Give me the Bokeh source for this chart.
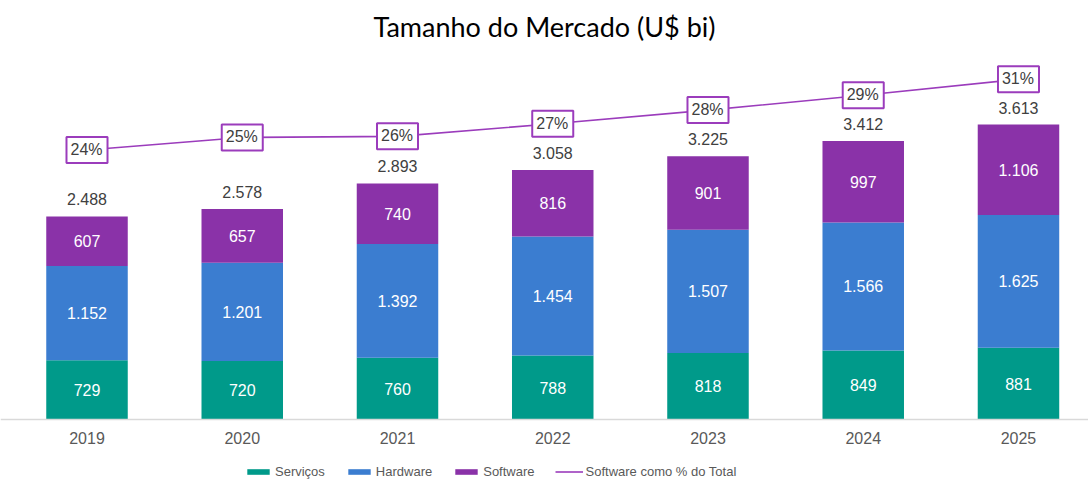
from bokeh.plotting import figure
from bokeh.models import Range1d, ColumnDataSource, Legend, LegendItem, FixedTicker
from bokeh.core.properties import value
from bokeh.embed import file_html
from bokeh.resources import INLINE

# ---- data ----
years = ["2019", "2020", "2021", "2022", "2023", "2024", "2025"]
servicos = [729, 720, 760, 788, 818, 849, 881]
hardware = [1152, 1201, 1392, 1454, 1507, 1566, 1625]
software = [607, 657, 740, 816, 901, 997, 1106]
totals = [2488, 2578, 2893, 3058, 3225, 3412, 3613]
sw_pct = [24.4, 25.5, 25.6, 26.7, 27.9, 29.2, 30.6]
sw_pct_labels = ["24%", "25%", "26%", "27%", "28%", "29%", "31%"]

C_SERV = "#009a8a"
C_HARD = "#3b7dd0"
C_SOFT = "#8a32a8"
C_LINE = "#9b3cbc"

def br(v):
    return f"{v:,}".replace(",", ".")

x = list(range(len(years)))
b1 = [0] * len(x)
t1 = servicos
t2 = [a + b for a, b in zip(servicos, hardware)]
t3 = [a + b for a, b in zip(t2, software)]

src = ColumnDataSource(dict(
    x=x, b1=b1, t1=t1, t2=t2, t3=t3,
    m1=[(a + b) / 2 for a, b in zip(b1, t1)],
    m2=[(a + b) / 2 for a, b in zip(t1, t2)],
    m3=[(a + b) / 2 for a, b in zip(t2, t3)],
    l1=[br(v) for v in servicos], l2=[br(v) for v in hardware], l3=[br(v) for v in software],
    tot=totals, ltot=[br(v) for v in totals],
    pct=sw_pct, lpct=sw_pct_labels,
))

W, H = 1088, 481
p = figure(width=W, height=H, output_backend="svg", toolbar_location=None,
           x_range=Range1d(-0.5572, 6.451), y_range=Range1d(-755, 4519),
           y_axis_location=None, min_border_left=0, min_border_right=0,
           min_border_top=48, min_border_bottom=0)
p.extra_y_ranges = {"pct": Range1d(-4.68, 33.13)}
p.outline_line_color = None
p.xgrid.visible = False
p.ygrid.visible = False
p.background_fill_color = "white"
p.border_fill_color = "white"

p.title.text = "Tamanho do Mercado (U$ bi)"
p.title.align = "center"
p.title.offset = 17
p.title.text_font = "Lato"
p.title.text_font_size = "27px"
p.title.text_font_style = "normal"
p.title.text_color = "#000000"
p.title.standoff = 15

BW = 0.525
r1 = p.vbar(x="x", bottom="b1", top="t1", width=BW, color=C_SERV, line_color=None, source=src)
r2 = p.vbar(x="x", bottom="t1", top="t2", width=BW, color=C_HARD, line_color=None, source=src)
r3 = p.vbar(x="x", bottom="t2", top="t3", width=BW, color=C_SOFT, line_color=None, source=src)

FONT = value("Liberation Sans")
for ycol, lcol in (("m1", "l1"), ("m2", "l2"), ("m3", "l3")):
    p.text(x="x", y=ycol, text=lcol, source=src, text_align="center", text_baseline="middle",
           text_color="white", text_font=FONT, text_font_size="16px")

p.text(x="x", y="tot", text="ltot", source=src, text_align="center", text_baseline="middle",
       y_offset=-17, text_color="#404040", text_font=FONT, text_font_size="16px")

r4 = p.line(x="x", y="pct", source=src, y_range_name="pct", line_color=C_LINE, line_width=1.6)
p.text(x="x", y="pct", text="lpct", source=src, y_range_name="pct", text_align="center",
       text_baseline="middle", text_color="#404040", text_font=FONT, text_font_size="16px",
       background_fill_color="white", border_line_color=C_LINE, border_line_width=2,
       padding=[4, 5, 4, 5])

xa = p.xaxis[0]
xa.fixed_location = 0
xa.ticker = FixedTicker(ticks=x)
xa.major_label_overrides = {i: y for i, y in enumerate(years)}
xa.axis_line_color = "#d9d9d9"
xa.axis_line_width = 1.5
xa.major_tick_line_color = None
xa.minor_tick_line_color = None
xa.major_tick_out = 0
xa.major_tick_in = 0
xa.major_label_standoff = 12
xa.major_label_text_font = "Liberation Sans"
xa.major_label_text_font_size = "16px"
xa.major_label_text_color = "#595959"

legend = Legend(items=[
    LegendItem(label="Serviços", renderers=[r1]),
    LegendItem(label="Hardware", renderers=[r2]),
    LegendItem(label="Software", renderers=[r3]),
    LegendItem(label="Software como % do Total", renderers=[r4]),
], orientation="horizontal", location=(244, 2), glyph_width=28, glyph_height=7,
    label_standoff=3, spacing=20, padding=0, margin=0, border_line_color=None,
    background_fill_alpha=0, label_text_font="Liberation Sans", label_text_font_size="13px",
    label_text_color="#595959", label_height=14)
p.add_layout(legend, "center")

open("out.html", "w").write(file_html(p, INLINE))
